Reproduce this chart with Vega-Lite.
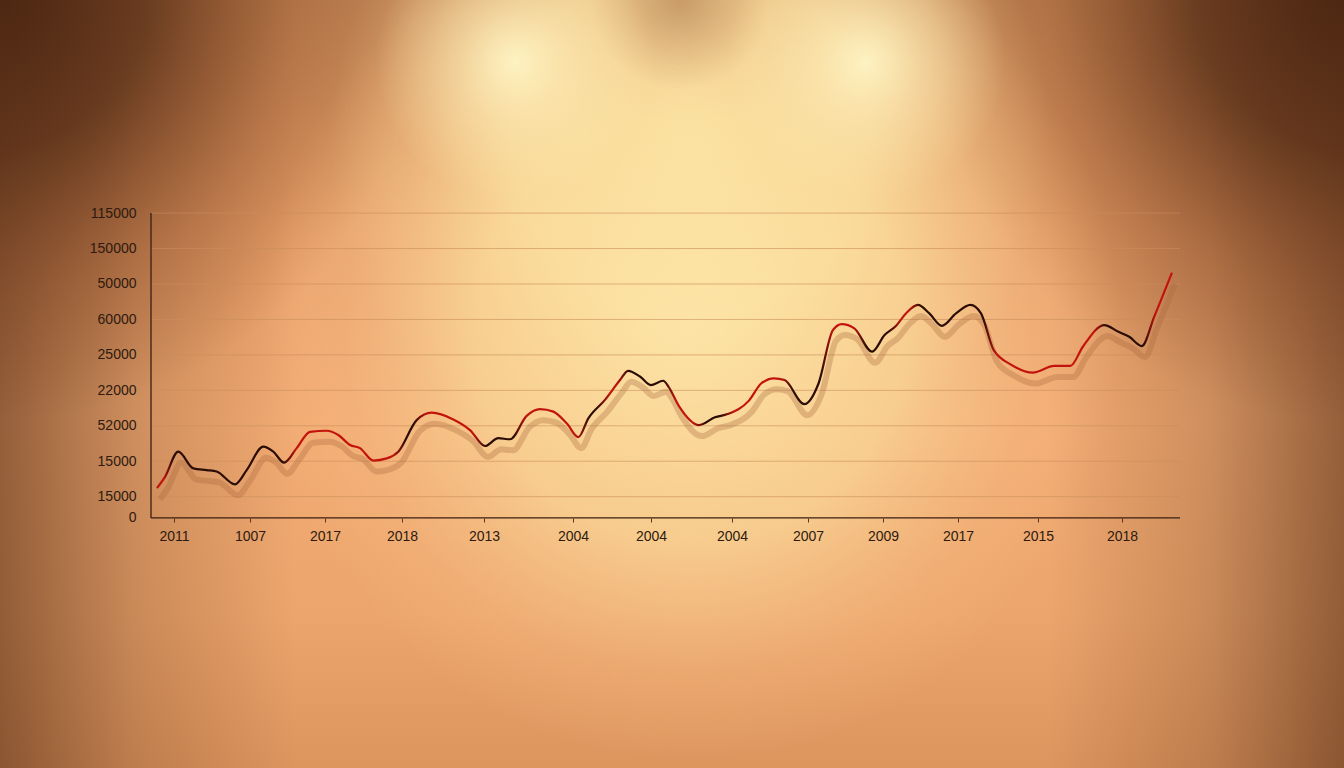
{
  "$schema": "https://vega.github.io/schema/vega-lite/v6.json",
  "width": 1344,
  "height": 768,
  "padding": 0,
  "autosize": {"type": "none"},
  "background": "#eba56d",
  "config": {"view": {"stroke": null}},
  "resolve": {"axis": {"x": "independent", "y": "independent"}},
  "datasets": {
    "series": [
      {"t": 0.58, "v": 0.24}, {"t": 1.36, "v": 0.56}, {"t": 2.65, "v": 1.27}, {"t": 4.11, "v": 0.80},
      {"t": 5.41, "v": 0.75}, {"t": 6.38, "v": 0.71}, {"t": 8.16, "v": 0.35}, {"t": 9.30, "v": 0.75},
      {"t": 10.91, "v": 1.41}, {"t": 11.89, "v": 1.27}, {"t": 12.93, "v": 0.96}, {"t": 14.16, "v": 1.37},
      {"t": 15.45, "v": 1.83}, {"t": 17.07, "v": 1.86}, {"t": 18.20, "v": 1.74}, {"t": 19.34, "v": 1.46},
      {"t": 20.31, "v": 1.37}, {"t": 21.60, "v": 1.02}, {"t": 22.91, "v": 1.08}, {"t": 24.03, "v": 1.27},
      {"t": 25.82, "v": 2.16}, {"t": 27.28, "v": 2.37}, {"t": 29.38, "v": 2.18}, {"t": 31.00, "v": 1.88},
      {"t": 32.46, "v": 1.43}, {"t": 33.75, "v": 1.65}, {"t": 34.89, "v": 1.62}, {"t": 36.51, "v": 2.28},
      {"t": 37.80, "v": 2.47}, {"t": 39.10, "v": 2.40}, {"t": 40.40, "v": 2.07}, {"t": 41.53, "v": 1.68},
      {"t": 42.50, "v": 2.21}, {"t": 44.12, "v": 2.73}, {"t": 45.58, "v": 3.29}, {"t": 46.36, "v": 3.55},
      {"t": 47.52, "v": 3.39}, {"t": 48.56, "v": 3.15}, {"t": 49.78, "v": 3.27}, {"t": 50.30, "v": 3.10},
      {"t": 51.34, "v": 2.54}, {"t": 53.25, "v": 2.02}, {"t": 54.81, "v": 2.24}, {"t": 56.03, "v": 2.33},
      {"t": 58.11, "v": 2.71}, {"t": 59.32, "v": 3.20}, {"t": 60.54, "v": 3.34}, {"t": 61.57, "v": 3.29},
      {"t": 63.49, "v": 2.61}, {"t": 64.88, "v": 3.20}, {"t": 66.27, "v": 4.70}, {"t": 67.13, "v": 4.87},
      {"t": 68.35, "v": 4.75}, {"t": 70.08, "v": 4.09}, {"t": 71.29, "v": 4.56}, {"t": 72.34, "v": 4.80},
      {"t": 73.37, "v": 5.17}, {"t": 74.53, "v": 5.41}, {"t": 75.64, "v": 5.17}, {"t": 76.85, "v": 4.82},
      {"t": 78.23, "v": 5.17}, {"t": 79.63, "v": 5.41}, {"t": 80.66, "v": 5.17}, {"t": 81.89, "v": 4.14},
      {"t": 83.61, "v": 3.72}, {"t": 85.70, "v": 3.50}, {"t": 87.78, "v": 3.69}, {"t": 89.35, "v": 3.69},
      {"t": 90.56, "v": 4.23}, {"t": 92.64, "v": 4.84}, {"t": 94.03, "v": 4.65}, {"t": 95.07, "v": 4.51},
      {"t": 96.29, "v": 4.25}, {"t": 97.50, "v": 5.08}, {"t": 99.22, "v": 6.32}
    ],
    "grid": [
      {"level": 0}, {"level": 1}, {"level": 2}, {"level": 3}, {"level": 4},
      {"level": 5}, {"level": 6}, {"level": 7}, {"level": 8}
    ],
    "one": [{}]
  },
  "layer": [
    {
      "data": {"name": "one"},
      "mark": {"type": "rect", "fill": {"gradient": "linear", "x1": 0, "y1": 0, "x2": 0, "y2": 1, "stops": [
        {"offset": 0, "color": "#c08656"},
        {"offset": 0.3, "color": "#e8a26c"},
        {"offset": 0.55, "color": "#f2ab73"},
        {"offset": 0.8, "color": "#eca56c"},
        {"offset": 1, "color": "#dd955e"}
      ]}},
      "encoding": {}
    },
    {
      "data": {"name": "one"},
      "mark": {"type": "rect", "fill": {"gradient": "radial", "x1": 0.5, "y1": 0.5, "r1": 0, "x2": 0.5, "y2": 0.5, "r2": 0.5, "stops": [
        {"offset": 0, "color": "rgba(70,35,15,0.95)"},
        {"offset": 0.35, "color": "rgba(90,46,22,0.78)"},
        {"offset": 0.7, "color": "rgba(150,80,40,0.38)"},
        {"offset": 1, "color": "rgba(150,80,40,0)"}
      ]}},
      "encoding": {
        "x": {"datum": -55.49, "type": "quantitative", "axis": null},
        "x2": {"datum": 26.14},
        "y": {"datum": 25.86, "type": "quantitative", "axis": null},
        "y2": {"datum": 2.164}
      }
    },
    {
      "data": {"name": "one"},
      "mark": {"type": "rect", "fill": {"gradient": "radial", "x1": 0.5, "y1": 0.5, "r1": 0, "x2": 0.5, "y2": 0.5, "r2": 0.5, "stops": [
        {"offset": 0, "color": "rgba(70,35,15,0.95)"},
        {"offset": 0.35, "color": "rgba(90,46,22,0.78)"},
        {"offset": 0.7, "color": "rgba(150,80,40,0.38)"},
        {"offset": 1, "color": "rgba(150,80,40,0)"}
      ]}},
      "encoding": {
        "x": {"datum": 75.12, "type": "quantitative", "axis": null},
        "x2": {"datum": 156.75},
        "y": {"datum": 25.86, "type": "quantitative", "axis": null},
        "y2": {"datum": 2.164}
      }
    },
    {
      "data": {"name": "one"},
      "mark": {"type": "rect", "fill": {"gradient": "linear", "x1": 0, "y1": 0, "x2": 1, "y2": 0, "stops": [
        {"offset": 0, "color": "rgba(80,40,18,0.58)"},
        {"offset": 0.1, "color": "rgba(80,40,18,0.22)"},
        {"offset": 0.22, "color": "rgba(80,40,18,0)"},
        {"offset": 0.78, "color": "rgba(80,40,18,0)"},
        {"offset": 0.9, "color": "rgba(80,40,18,0.22)"},
        {"offset": 1, "color": "rgba(80,40,18,0.58)"}
      ]}},
      "encoding": {}
    },
    {
      "data": {"name": "one"},
      "mark": {"type": "rect", "fill": {"gradient": "radial", "x1": 0.5, "y1": 0.5, "r1": 0, "x2": 0.5, "y2": 0.5, "r2": 0.5, "stops": [
        {"offset": 0, "color": "rgba(253,232,170,0.9)"},
        {"offset": 0.5, "color": "rgba(252,225,160,0.7)"},
        {"offset": 0.8, "color": "rgba(250,205,145,0.25)"},
        {"offset": 1, "color": "rgba(250,205,145,0)"}
      ]}},
      "encoding": {
        "x": {"datum": 17.40, "type": "quantitative", "axis": null},
        "x2": {"datum": 87.37},
        "y": {"datum": 20.22, "type": "quantitative", "axis": null},
        "y2": {"datum": -0.093}
      }
    },
    {
      "data": {"name": "one"},
      "mark": {"type": "rect", "fill": {"gradient": "radial", "x1": 0.5, "y1": 0.5, "r1": 0, "x2": 0.5, "y2": 0.5, "r2": 0.5, "stops": [
        {"offset": 0, "color": "rgba(253,232,170,0.85)"},
        {"offset": 0.5, "color": "rgba(252,225,160,0.62)"},
        {"offset": 0.8, "color": "rgba(250,205,145,0.2)"},
        {"offset": 1, "color": "rgba(250,205,145,0)"}
      ]}},
      "encoding": {
        "x": {"datum": 10.59, "type": "quantitative", "axis": null},
        "x2": {"datum": 94.17},
        "y": {"datum": 16.83, "type": "quantitative", "axis": null},
        "y2": {"datum": -7.43}
      }
    },
    {
      "data": {"name": "one"},
      "mark": {"type": "rect", "fill": {"gradient": "radial", "x1": 0.5, "y1": 0.5, "r1": 0, "x2": 0.5, "y2": 0.5, "r2": 0.5, "stops": [
        {"offset": 0, "color": "rgba(140,80,42,0.4)"},
        {"offset": 1, "color": "rgba(140,80,42,0)"}
      ]}},
      "encoding": {
        "x": {"datum": 42.66, "type": "quantitative", "axis": null},
        "x2": {"datum": 60.16},
        "y": {"datum": 16.55, "type": "quantitative", "axis": null},
        "y2": {"datum": 11.47}
      }
    },
    {
      "data": {"name": "one"},
      "mark": {"type": "rect", "fill": {"gradient": "radial", "x1": 0.5, "y1": 0.5, "r1": 0, "x2": 0.5, "y2": 0.5, "r2": 0.5, "stops": [
        {"offset": 0, "color": "rgba(255,247,200,0.9)"},
        {"offset": 0.4, "color": "rgba(254,240,185,0.5)"},
        {"offset": 1, "color": "rgba(252,232,172,0)"}
      ]}},
      "encoding": {
        "x": {"datum": 21.77, "type": "quantitative", "axis": null},
        "x2": {"datum": 48.98},
        "y": {"datum": 16.21, "type": "quantitative", "axis": null},
        "y2": {"datum": 8.31}
      }
    },
    {
      "data": {"name": "one"},
      "mark": {"type": "rect", "fill": {"gradient": "radial", "x1": 0.5, "y1": 0.5, "r1": 0, "x2": 0.5, "y2": 0.5, "r2": 0.5, "stops": [
        {"offset": 0, "color": "rgba(255,247,200,0.9)"},
        {"offset": 0.4, "color": "rgba(254,240,185,0.5)"},
        {"offset": 1, "color": "rgba(252,232,172,0)"}
      ]}},
      "encoding": {
        "x": {"datum": 55.88, "type": "quantitative", "axis": null},
        "x2": {"datum": 83.09},
        "y": {"datum": 16.21, "type": "quantitative", "axis": null},
        "y2": {"datum": 8.31}
      }
    },
    {
      "data": {"name": "grid"},
      "mark": {"type": "rule", "stroke": "#c98d5c", "strokeWidth": 1, "opacity": 0.6},
      "encoding": {
        "y": {"field": "level", "type": "quantitative", "scale": {"domain": [-7.653, 14.011], "nice": false, "zero": false}, "axis": null},
        "x": {"datum": 0, "type": "quantitative", "scale": {"domain": [-14.674, 115.938], "nice": false, "zero": false}, "axis": null},
        "x2": {"datum": 100}
      }
    },
    {
      "data": {"name": "one"},
      "mark": {"type": "rule", "stroke": "#3a1f10", "strokeWidth": 1.3},
      "encoding": {
        "x": {"datum": 0, "type": "quantitative", "axis": null},
        "y": {"datum": -0.6, "type": "quantitative", "axis": null},
        "y2": {"datum": 8}
      }
    },
    {
      "data": {"name": "one"},
      "mark": {"type": "rule", "stroke": "#3a1f10", "strokeWidth": 1.3},
      "encoding": {
        "y": {"datum": -0.6, "type": "quantitative", "axis": null},
        "x": {"datum": 0, "type": "quantitative", "axis": null},
        "x2": {"datum": 100}
      }
    },
    {
      "data": {"name": "series"},
      "mark": {"type": "line", "interpolate": "monotone", "stroke": "#a8683a", "strokeWidth": 6, "opacity": 0.32, "xOffset": 3, "yOffset": 11},
      "encoding": {
        "x": {"field": "t", "type": "quantitative", "axis": null},
        "y": {"field": "v", "type": "quantitative", "axis": null}
      }
    },
    {
      "data": {"name": "series"},
      "mark": {"type": "line", "interpolate": "monotone", "strokeWidth": 2.2, "stroke": {"gradient": "linear", "x1": 0, "y1": 0, "x2": 1, "y2": 0, "stops": [
        {"offset": 0, "color": "#c2140c"},
        {"offset": 0.006, "color": "#c2140c"}, {"offset": 0.016, "color": "#2b0d06"},
        {"offset": 0.125, "color": "#2b0d06"}, {"offset": 0.137, "color": "#c2140c"},
        {"offset": 0.233, "color": "#c2140c"}, {"offset": 0.245, "color": "#2b0d06"},
        {"offset": 0.253, "color": "#2b0d06"}, {"offset": 0.265, "color": "#c2140c"},
        {"offset": 0.312, "color": "#c2140c"}, {"offset": 0.324, "color": "#2b0d06"},
        {"offset": 0.351, "color": "#2b0d06"}, {"offset": 0.364, "color": "#c2140c"},
        {"offset": 0.413, "color": "#c2140c"}, {"offset": 0.426, "color": "#2b0d06"},
        {"offset": 0.433, "color": "#2b0d06"}, {"offset": 0.446, "color": "#c2140c"},
        {"offset": 0.453, "color": "#c2140c"}, {"offset": 0.465, "color": "#2b0d06"},
        {"offset": 0.499, "color": "#2b0d06"}, {"offset": 0.511, "color": "#c2140c"},
        {"offset": 0.529, "color": "#c2140c"}, {"offset": 0.541, "color": "#2b0d06"},
        {"offset": 0.555, "color": "#2b0d06"}, {"offset": 0.568, "color": "#c2140c"},
        {"offset": 0.614, "color": "#c2140c"}, {"offset": 0.627, "color": "#2b0d06"},
        {"offset": 0.654, "color": "#2b0d06"}, {"offset": 0.666, "color": "#c2140c"},
        {"offset": 0.686, "color": "#c2140c"}, {"offset": 0.699, "color": "#2b0d06"},
        {"offset": 0.721, "color": "#2b0d06"}, {"offset": 0.733, "color": "#c2140c"},
        {"offset": 0.741, "color": "#c2140c"}, {"offset": 0.753, "color": "#2b0d06"},
        {"offset": 0.814, "color": "#2b0d06"}, {"offset": 0.827, "color": "#c2140c"},
        {"offset": 0.923, "color": "#c2140c"}, {"offset": 0.935, "color": "#2b0d06"},
        {"offset": 0.972, "color": "#2b0d06"}, {"offset": 0.984, "color": "#c2140c"},
        {"offset": 1, "color": "#c2140c"}
      ]}},
      "encoding": {
        "x": {"field": "t", "type": "quantitative", "axis": {
          "orient": "bottom", "offset": -250, "title": null, "zindex": 1,
          "values": [2.24, 9.62, 16.91, 24.39, 32.36, 41.01, 48.59, 56.46, 63.85, 71.14, 78.43, 86.2, 94.36],
          "labelExpr": "datum.value < 5 ? '2011' : datum.value < 12 ? '1007' : datum.value < 20 ? '2017' : datum.value < 28 ? '2018' : datum.value < 36 ? '2013' : datum.value < 60 ? '2004' : datum.value < 67 ? '2007' : datum.value < 75 ? '2009' : datum.value < 82 ? '2017' : datum.value < 90 ? '2015' : '2018'",
          "domain": false, "grid": false, "ticks": true, "tickSize": 4, "tickColor": "#5a3520", "tickWidth": 1,
          "labelPadding": 7, "labelFont": "Liberation Sans", "labelFontSize": 14, "labelColor": "#2e1a0f",
          "labelOverlap": false, "labelFlush": false
        }},
        "y": {"field": "v", "type": "quantitative", "axis": {
          "orient": "left", "offset": -151, "title": null, "zindex": 1,
          "values": [-0.6, 0, 1, 2, 3, 4, 5, 6, 7, 8],
          "labelExpr": "datum.value < -0.3 ? '0' : datum.value < 1.5 ? '15000' : datum.value < 2.5 ? '52000' : datum.value < 3.5 ? '22000' : datum.value < 4.5 ? '25000' : datum.value < 5.5 ? '60000' : datum.value < 6.5 ? '50000' : datum.value < 7.5 ? '150000' : '115000'",
          "domain": false, "grid": false, "ticks": false, "tickSize": 0,
          "labelPadding": 15, "labelFont": "Liberation Sans", "labelFontSize": 14, "labelColor": "#2e1a0f",
          "labelOverlap": false, "labelFlush": false
        }}
      }
    }
  ]
}
